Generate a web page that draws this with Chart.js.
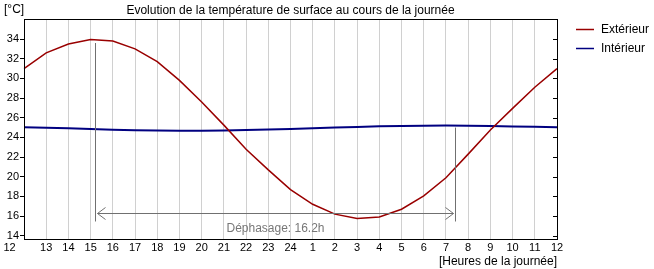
<!DOCTYPE html>
<html>
<head>
<meta charset="utf-8">
<script src="https://cdn.jsdelivr.net/npm/chart.js@4"></script>
<style>
  html, body { margin: 0; padding: 0; background: #fff; }
  #wrap { width: 654px; height: 269px; position: relative; }
</style>
</head>
<body>
<div id="wrap"><canvas id="chart"></canvas></div>
<script>
// Heures de 12h à 12h le lendemain
const hourLabels = ['12', '13', '14', '15', '16', '17', '18', '19', '20', '21', '22', '23', '24',
                    '1', '2', '3', '4', '5', '6', '7', '8', '9', '10', '11', '12'];

// Températures de surface [°C]
const exterieur = [31.0, 32.6, 33.5, 33.95, 33.8, 33.0, 31.7, 29.8, 27.6, 25.25, 22.8, 20.7, 18.7,
                   17.2, 16.2, 15.75, 15.9, 16.7, 18.05, 19.9, 22.3, 24.75, 26.95, 29.1, 31.0];
const interieur = [25.03, 24.98, 24.92, 24.85, 24.79, 24.74, 24.70, 24.69, 24.69, 24.71, 24.75, 24.80, 24.86,
                   24.93, 25.00, 25.07, 25.13, 25.17, 25.19, 25.20, 25.19, 25.16, 25.12, 25.08, 25.04];

const yTicks = [14, 16, 18, 20, 22, 24, 26, 28, 30, 32, 34];

// Déphasage entre max extérieur et max intérieur
const phaseStart = 15.2;   // heure
const phaseHours = 16.2;
const phaseLabel = 'Déphasage: 16.2h';

const fontFamily = '"Liberation Sans", Arial, sans-serif';

const decorPlugin = {
    id: 'decor',
    afterDraw(chart) {
        const { ctx, chartArea: a, scales: { x, y } } = chart;
        ctx.save();

        // cadre
        ctx.strokeStyle = '#000';
        ctx.lineWidth = 1;
        ctx.strokeRect(Math.round(a.left) + 0.5, Math.round(a.top) + 0.5,
                       Math.round(a.right) - Math.round(a.left), Math.round(a.bottom) - Math.round(a.top));

        // petites graduations à droite
        yTicks.forEach(v => {
            const py = Math.round(y.getPixelForValue(v)) + 0.5;
            ctx.beginPath();
            ctx.moveTo(a.right - 4, py);
            ctx.lineTo(a.right, py);
            ctx.stroke();
        });

        // première étiquette (décalée à gauche)
        ctx.fillStyle = '#000';
        ctx.font = '11px ' + fontFamily;
        ctx.textAlign = 'center';
        ctx.textBaseline = 'middle';
        ctx.fillText(hourLabels[0], a.left - 14.5, a.bottom + 2 + 6.6);

        // unité axe Y
        ctx.font = '12px ' + fontFamily;
        ctx.textAlign = 'left';
        ctx.fillText('[°C]', 4, 10);

        // légende
        chart.data.datasets.forEach((ds, i) => {
            const ly = 29 + i * 19;
            ctx.strokeStyle = ds.borderColor;
            ctx.lineWidth = 1.5;
            ctx.beginPath();
            ctx.moveTo(576, ly + 0.5);
            ctx.lineTo(594, ly + 0.5);
            ctx.stroke();
            ctx.fillStyle = '#000';
            ctx.fillText(ds.label, 601, ly + 1);
        });

        // déphasage
        const i0 = phaseStart - 12;
        const i1 = i0 + phaseHours;
        const x0 = Math.round(x.getPixelForValue(i0)) + 0.5;
        const x1 = Math.round(x.getPixelForValue(i1)) + 0.5;
        const yb = y.getPixelForValue(15.45);
        const ya = Math.round(y.getPixelForValue(16.3)) + 0.5;
        ctx.strokeStyle = '#707070';
        ctx.lineWidth = 1;
        ctx.beginPath();
        ctx.moveTo(x0, y.getPixelForValue(33.6));
        ctx.lineTo(x0, yb);
        ctx.moveTo(x1, y.getPixelForValue(25.0));
        ctx.lineTo(x1, yb);
        ctx.moveTo(x0 + 2, ya);
        ctx.lineTo(x1 - 2, ya);
        ctx.moveTo(x0 + 10, ya - 6);
        ctx.lineTo(x0 + 2, ya);
        ctx.lineTo(x0 + 10, ya + 6);
        ctx.moveTo(x1 - 10, ya - 6);
        ctx.lineTo(x1 - 2, ya);
        ctx.lineTo(x1 - 10, ya + 6);
        ctx.stroke();

        ctx.fillStyle = '#777';
        ctx.font = '12px ' + fontFamily;
        ctx.textAlign = 'center';
        ctx.textBaseline = 'alphabetic';
        ctx.fillText(phaseLabel, (x0 + x1) / 2, y.getPixelForValue(14.4));

        ctx.restore();
    }
};

new Chart(document.getElementById('chart'), {
    type: 'line',
    data: {
        labels: hourLabels,
        datasets: [
            {
                label: 'Extérieur',
                data: exterieur,
                borderColor: '#990000',
                borderWidth: 1.5,
                pointRadius: 0,
                tension: 0
            },
            {
                label: 'Intérieur',
                data: interieur,
                borderColor: '#000080',
                borderWidth: 2,
                pointRadius: 0,
                tension: 0
            }
        ]
    },
    options: {
        responsive: true,
        maintainAspectRatio: false,
        animation: false,
        layout: { padding: { left: 0, right: 97, top: 0, bottom: 0 } },
        plugins: {
            legend: { display: false },
            tooltip: { enabled: false },
            title: {
                display: true,
                fullSize: false,
                text: 'Evolution de la température de surface au cours de la journée',
                color: '#000',
                font: { family: fontFamily, size: 12, weight: 'normal' },
                padding: { top: 3, bottom: 2 }
            }
        },
        scales: {
            x: {
                offset: false,
                grid: { color: '#d0d0d0', lineWidth: 1, drawTicks: false },
                border: { color: '#000', width: 1 },
                ticks: {
                    color: '#000',
                    font: { family: fontFamily, size: 11 },
                    padding: 2,
                    maxRotation: 0,
                    autoSkip: false,
                    callback: (v, i) => i === 0 ? '' : hourLabels[i]
                },
                title: {
                    display: true,
                    text: '[Heures de la journée]',
                    align: 'end',
                    color: '#000',
                    font: { family: fontFamily, size: 12 },
                    padding: 0
                },
                afterFit: s => { s.height = 30; }
            },
            y: {
                min: 13.67,
                max: 36,
                grid: { drawOnChartArea: false, drawTicks: true, tickLength: 4, color: '#000' },
                border: { color: '#000', width: 1 },
                ticks: {
                    color: '#000',
                    font: { family: fontFamily, size: 11 },
                    padding: 1
                },
                afterBuildTicks: s => { s.ticks = yTicks.map(v => ({ value: v })); },
                afterFit: s => { s.width = 24; }
            }
        }
    },
    plugins: [decorPlugin]
});
</script>
</body>
</html>
